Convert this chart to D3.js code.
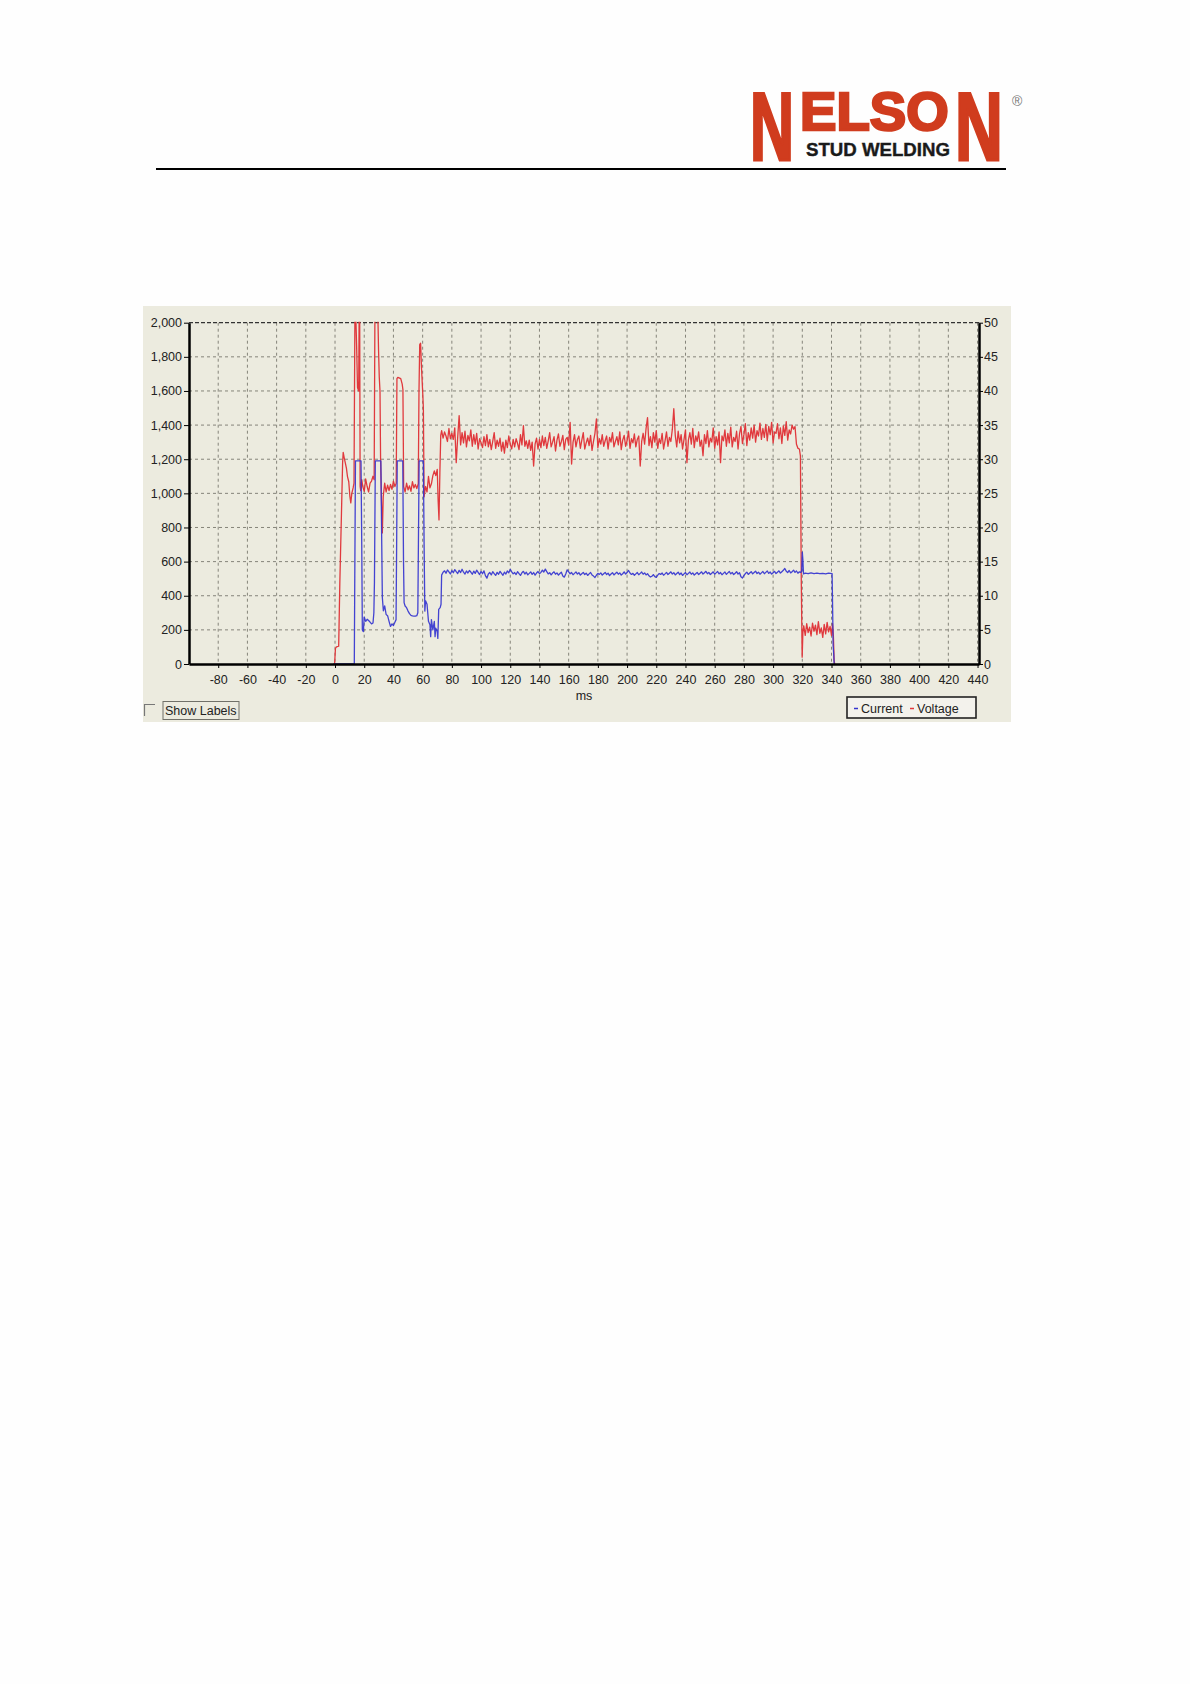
<!DOCTYPE html>
<html>
<head>
<meta charset="utf-8">
<script src="https://cdn.jsdelivr.net/npm/d3@7/dist/d3.min.js"></script>
<style>
  html, body { margin: 0; padding: 0; background: #fefefe; }
  svg { display: block; }
  text { font-family: "Liberation Sans", Arial, sans-serif; }
</style>
</head>
<body>
<div id="chart"></div>
<script>
// tick labels
const timeTicks = [-80, -60, -40, -20, 0, 20, 40, 60, 80, 100, 120, 140, 160, 180, 200, 220, 240, 260, 280, 300, 320, 340, 360, 380, 400, 420, 440];
const currentTicks = [0, 200, 400, 600, 800, 1000, 1200, 1400, 1600, 1800, 2000];
const voltageTicks = [0, 5, 10, 15, 20, 25, 30, 35, 40, 45, 50];
const legendItems = ['Current', 'Voltage'];

// voltage (V), ignition and pilot bursts: [ms, V]
const voltageIgnition = [
  [-1, 0], [-0.3, 0], [0.3, 2.3], [1, 2.5], [2.5, 2.6], [3.3, 12], [4.4, 22], [5.2, 29.5], [5.6, 31],
  [6.3, 30.2], [7, 29.5], [7.8, 28.7], [8.5, 27.5], [9.4, 26.7], [10.2, 24.5], [10.8, 23.6], [11.5, 25],
  [12.4, 25.8], [13, 26.5], [13.6, 50.5], [14.3, 50.5], [14.8, 46.5], [15.4, 40.5], [16.2, 40],
  [16.5, 50.5], [16.9, 50.5], [17.2, 26], [17.6, 25.4], [18.3, 27], [19, 26], [20, 25.3], [21, 27.1],
  [22, 26], [23, 25.2], [24, 26.5], [25, 26.8], [26, 27.5], [26.8, 27], [27.3, 50.5], [29.4, 50.5],
  [29.8, 46], [30.3, 42], [30.8, 40], [31.2, 30], [31.8, 24], [32.4, 19.2], [33, 24.5], [34, 26.5],
  [35, 25.2], [36, 26.2], [37, 25.4], [38, 26.3], [39, 25.6], [40, 26.8], [41, 26], [41.9, 26.5],
  [42.4, 41.8], [43, 42], [45, 41.8], [46, 41], [46.5, 40.2], [47, 26], [48, 25.2], [49, 26.5],
  [50, 25.5], [51, 26.1], [52, 25.3], [53, 26.7], [54, 25.8], [55, 26.3], [56, 25.7], [57, 26.4],
  [57.5, 40], [58, 46.8], [58.6, 47], [59.2, 43.5], [60, 40], [60.5, 37.5], [61, 24.5], [62, 26],
  [63, 25.2], [64, 27.5], [65, 25.8], [66, 26.4], [67, 27.6], [68, 28.3], [69, 27.6], [70, 28.5],
  [70.6, 24], [71.2, 21.1], [71.8, 28], [72.4, 33.5]
];

// voltage (V) during main arc, one reading per ms from 73 ms
const voltageArcStart = 73;
const voltageArc = [
  34.2, 33.1, 34.0, 33.4, 32.6, 34.5, 33.0, 33.8, 32.9, 34.6,
  29.5, 33.2, 36.4, 32.1, 33.9, 32.4, 34.1, 31.8, 33.5, 32.7,
  34.3, 31.9, 33.6, 32.2, 33.8, 31.5, 33.0, 32.4, 31.7, 33.3,
  32.0, 33.6, 31.8, 32.9, 31.4, 32.6, 33.9, 31.6, 32.8, 31.9,
  33.1, 31.2, 32.5, 30.9, 32.8, 31.7, 33.4, 32.2, 31.5, 32.9,
  31.8, 33.0, 32.3, 31.4, 33.6, 32.1, 34.9, 31.9, 32.7, 31.6,
  32.8, 31.3, 32.5, 29.0, 32.2, 33.1, 31.5, 32.9, 31.7, 33.4,
  32.0, 33.2, 31.6, 32.7, 33.9, 31.8, 32.5, 33.3, 31.2, 32.8,
  33.7, 31.9, 32.6, 33.5, 31.4, 32.9, 33.2, 32.1, 35.4, 29.3,
  32.5, 33.6, 31.8, 32.9, 33.4, 31.6, 32.8, 33.9, 31.5, 32.4,
  33.1, 32.0, 33.5, 31.3, 32.6, 33.8, 35.9, 31.7, 33.0, 32.2,
  33.6, 31.9, 32.7, 33.4, 31.5, 33.2, 32.5, 33.9, 31.8, 32.6,
  33.3, 32.1, 34.0, 31.4, 32.8, 33.5, 31.9, 32.7, 34.1, 31.6,
  33.0, 32.4, 33.7, 31.8, 32.9, 33.4, 29.0, 32.6, 33.8, 32.2,
  34.5, 36.1, 32.0, 33.3, 31.7, 33.9, 32.5, 34.2, 31.6, 33.0,
  32.3, 33.8, 31.5, 32.7, 34.0, 31.9, 33.2, 32.6, 34.4, 37.4,
  33.5, 31.8, 34.1, 32.4, 33.6, 31.5, 32.9, 34.3, 29.5, 32.8,
  33.9, 32.2, 34.5, 31.7, 33.4, 32.6, 34.0, 31.9, 32.8, 30.5,
  33.6, 32.3, 34.2, 31.8, 33.1, 32.5, 34.6, 31.6, 33.3, 32.1,
  34.0, 29.5, 33.4, 32.7, 34.3, 31.9, 33.8, 32.4, 34.7, 31.8,
  33.2, 32.6, 34.1, 31.5, 33.7, 34.8, 32.3, 33.6, 35.2, 32.0,
  33.9, 32.8, 34.6, 33.1, 35.0, 32.5, 34.2, 33.4, 35.3, 32.9,
  34.5, 33.2, 35.1, 32.7, 34.8, 33.6, 35.4, 32.4, 34.0, 33.8,
  35.2, 33.0, 34.6, 32.3, 34.9, 33.5, 35.5, 32.8, 34.3, 33.7,
  35.0, 34.4, 34.8, 32.2, 31.6
];

// voltage (V) at plunge: [ms, V]
const voltagePlunge = [
  [318, 31.5], [318.7, 30.5], [319.3, 12], [319.9, 1.0], [320.4, 4.6], [321, 5.6], [322, 4.2],
  [323, 5.9], [324, 4.6], [325, 5.4], [326, 4.1], [327, 6.0], [328, 4.8], [329, 5.7], [330, 4.3],
  [331, 6.2], [332, 4.5], [333, 5.3], [334, 3.9], [335, 5.8], [336, 4.4], [337, 6.1], [338, 4.7],
  [339, 5.5], [340, 4.2], [340.7, 5.9], [341.3, 4.0], [341.8, 0.5], [342.2, 0]
];

// current (A), pilot bursts: [ms, A]
const currentIgnition = [
  [-1, 0], [13.2, 0], [13.5, 470], [14.0, 1190], [17.8, 1190], [18.3, 700], [18.7, 200], [19.4, 190],
  [20, 275], [21, 250], [22, 262], [23, 255], [24, 245], [25, 235], [26, 240], [26.6, 300], [27, 480],
  [27.6, 1190], [31.4, 1190], [32, 700], [32.4, 390], [33.1, 312], [34, 340], [35, 290], [36, 283],
  [37, 250], [38, 220], [39, 235], [40, 225], [41, 245], [41.8, 260], [42.2, 700], [42.6, 1190],
  [46.4, 1190], [46.9, 600], [47.3, 360], [48, 340], [49, 330], [50, 310], [51, 295], [52, 285],
  [53, 282], [54, 280], [55, 280], [56, 283], [56.7, 300], [57.2, 800], [57.6, 1190], [60.5, 1190],
  [61.0, 700], [61.5, 310], [62, 370], [63, 350], [63.5, 300], [64, 250], [65, 230], [65.5, 160],
  [66, 260], [67, 200], [68, 250], [68.5, 160], [69, 210], [70, 190], [70.4, 150], [71, 320],
  [72, 330], [72.6, 350]
];

// current (A) during main arc, one reading per ms from 73 ms
const currentArcStart = 73;
const currentArc = [
  521, 538, 546, 532, 551, 540, 528, 547, 535, 553,
  541, 530, 549, 536, 555, 538, 527, 545, 533, 548,
  539, 526, 544, 531, 550, 537, 524, 542, 529, 546,
  518, 503, 527, 536, 522, 541, 530, 519, 537, 526,
  543, 531, 520, 538, 527, 545, 534, 555, 540, 528,
  536, 524, 541, 530, 519, 535, 543, 527, 538, 522,
  531, 540, 525, 536, 521, 533, 542, 529, 537, 550,
  539, 556, 541, 528, 535, 522, 533, 540, 526, 534,
  521, 530, 538, 516, 509, 527, 552, 540, 529, 536,
  523, 531, 540, 527, 535, 521, 529, 537, 524, 532,
  519, 528, 536, 522, 515, 507, 520, 531, 525, 534,
  521, 529, 537, 524, 532, 518, 527, 535, 522, 530,
  538, 526, 534, 521, 529, 540, 527, 536, 548, 533,
  525, 531, 520, 528, 536, 523, 531, 539, 526, 534,
  522, 529, 517, 510, 514, 524, 512, 508, 521, 530,
  525, 533, 520, 528, 537, 524, 532, 540, 527, 535,
  522, 530, 538, 524, 533, 519, 528, 536, 523, 531,
  539, 526, 534, 521, 529, 537, 524, 532, 540, 527,
  535, 543, 529, 537, 524, 532, 540, 526, 534, 542,
  528, 536, 523, 531, 539, 525, 534, 542, 528, 537,
  524, 532, 541, 527, 535, 511, 504, 518, 530, 538,
  525, 533, 541, 528, 536, 544, 530, 538, 526, 534,
  542, 529, 537, 545, 531, 539, 527, 535, 543, 530,
  538, 546, 533, 541, 549, 560, 544, 536, 548, 534,
  541, 550, 537, 545, 532, 540, 536
];

// current (A) at plunge: [ms, A]
const currentPlunge = [
  [319.6, 548], [320, 655], [320.4, 610], [320.8, 528], [322, 532], [324, 529], [326, 534],
  [328, 530], [330, 533], [332, 529], [334, 531], [336, 528], [338, 532], [340.4, 530],
  [340.8, 300], [341.1, 110], [341.5, 60], [341.8, 0]
];

const voltageSeries = voltageIgnition
  .concat(voltageArc.map((v, i) => [voltageArcStart + i, v]))
  .concat(voltagePlunge);
const currentSeries = currentIgnition
  .concat(currentArc.map((v, i) => [currentArcStart + i, v]))
  .concat(currentPlunge);

const width = 1190, height = 1684;
const svg = d3.select('#chart').append('svg')
  .attr('width', width)
  .attr('height', height);

// ---- logo header ----
// letters are squeezed with a transform so their boxes stay tight
const logoRed = '#d03c1e';
const logo = svg.append('g');
logo.append('text')
  .attr('transform', 'translate(750,160) scale(0.635,1)')
  .attr('font-size', 96).attr('font-weight', 'bold')
  .attr('fill', logoRed).attr('stroke', logoRed).attr('stroke-width', 3)
  .text('N');
logo.append('text')
  .attr('transform', 'translate(800,130) scale(1.03,1)')
  .attr('font-size', 53).attr('font-weight', 'bold')
  .attr('fill', logoRed).attr('stroke', logoRed).attr('stroke-width', 2.5)
  .text('ELSO');
logo.append('text')
  .attr('transform', 'translate(955,160) scale(0.69,1)')
  .attr('font-size', 96).attr('font-weight', 'bold')
  .attr('fill', logoRed).attr('stroke', logoRed).attr('stroke-width', 3)
  .text('N');
logo.append('text')
  .attr('x', 806).attr('y', 156)
  .attr('font-size', 19).attr('font-weight', 'bold')
  .attr('textLength', 144).attr('lengthAdjust', 'spacingAndGlyphs')
  .attr('fill', '#1a1a1a').attr('stroke', '#1a1a1a').attr('stroke-width', 0.4)
  .text('STUD WELDING');
logo.append('text')
  .attr('x', 1012).attr('y', 106)
  .attr('font-size', 14)
  .attr('fill', '#777')
  .text('®');

svg.append('line')
  .attr('x1', 156).attr('x2', 1006)
  .attr('y1', 169).attr('y2', 169)
  .attr('stroke', '#000').attr('stroke-width', 2);

// ---- chart panel ----
svg.append('rect')
  .attr('x', 143).attr('y', 306)
  .attr('width', 868).attr('height', 416)
  .attr('fill', '#ecebdf');

const xScale = d3.scaleLinear().domain([-100, 441]).range([189, 979]);
const yCurrent = d3.scaleLinear().domain([0, 2000]).range([664, 322.7]);
const yVoltage = d3.scaleLinear().domain([0, 50]).range([664, 322.7]);

const grid = svg.append('g');
grid.selectAll('line.v')
  .data(timeTicks)
  .enter().append('line')
  .attr('x1', d => xScale(d)).attr('x2', d => xScale(d))
  .attr('y1', yCurrent(2000)).attr('y2', yCurrent(0))
  .attr('stroke', '#85847a').attr('stroke-width', 1)
  .attr('stroke-dasharray', '3,3');
grid.selectAll('line.h')
  .data(currentTicks.filter(d => d > 0 && d < 2000))
  .enter().append('line')
  .attr('x1', xScale.range()[0]).attr('x2', xScale.range()[1])
  .attr('y1', d => yCurrent(d)).attr('y2', d => yCurrent(d))
  .attr('stroke', '#85847a').attr('stroke-width', 1)
  .attr('stroke-dasharray', '3,3');
// top border drawn as dark dashed line
grid.append('line')
  .attr('x1', xScale.range()[0]).attr('x2', xScale.range()[1])
  .attr('y1', yCurrent(2000)).attr('y2', yCurrent(2000))
  .attr('stroke', '#333').attr('stroke-width', 1.3)
  .attr('stroke-dasharray', '4,2');

// traces
svg.append('clipPath').attr('id', 'plot-clip')
  .append('rect')
  .attr('x', xScale.range()[0]).attr('y', yCurrent(2000) - 1)
  .attr('width', xScale.range()[1] - xScale.range()[0])
  .attr('height', yCurrent(0) - yCurrent(2000) + 1);

const traces = svg.append('g').attr('clip-path', 'url(#plot-clip)');

const voltageLine = d3.line()
  .x(d => xScale(d[0]))
  .y(d => yVoltage(d[1]));
const currentLine = d3.line()
  .x(d => xScale(d[0]))
  .y(d => yCurrent(d[1]));

traces.append('path')
  .datum(voltageSeries)
  .attr('d', voltageLine)
  .attr('fill', 'none')
  .attr('stroke', '#e0393d')
  .attr('stroke-width', 1.3)
  .attr('stroke-linejoin', 'round');
traces.append('path')
  .datum(currentSeries)
  .attr('d', currentLine)
  .attr('fill', 'none')
  .attr('stroke', '#3434cf')
  .attr('stroke-width', 1.3)
  .attr('stroke-opacity', 0.92)
  .attr('stroke-linejoin', 'round');

// axes
const axisFont = g => g.selectAll('text')
  .attr('font-size', 12.5)
  .attr('font-family', '"Liberation Sans", Arial, sans-serif')
  .attr('fill', '#222');

const xAxis = svg.append('g')
  .attr('transform', `translate(0,${yCurrent(0)})`)
  .call(d3.axisBottom(xScale).tickValues(timeTicks).tickFormat(d => String(d))
    .tickSize(4).tickSizeOuter(0).tickPadding(7))
  .call(axisFont);
xAxis.select('.domain').attr('stroke', '#000').attr('stroke-width', 2.5);
xAxis.selectAll('.tick line').attr('stroke', '#000');

const leftAxis = svg.append('g')
  .attr('transform', `translate(${xScale.range()[0]},0)`)
  .call(d3.axisLeft(yCurrent).tickValues(currentTicks).tickFormat(d3.format(','))
    .tickSize(5).tickSizeOuter(0).tickPadding(2))
  .call(axisFont);
leftAxis.select('.domain').attr('stroke', '#000').attr('stroke-width', 2.5);
leftAxis.selectAll('.tick line').attr('stroke', '#000');

const rightAxis = svg.append('g')
  .attr('transform', `translate(${xScale.range()[1]},0)`)
  .call(d3.axisRight(yVoltage).tickValues(voltageTicks).tickSize(4).tickSizeOuter(0).tickPadding(1))
  .call(axisFont);
rightAxis.select('.domain').attr('stroke', '#000').attr('stroke-width', 2.5);
rightAxis.selectAll('.tick line').attr('stroke', '#000');

svg.append('text')
  .attr('x', (xScale.range()[0] + xScale.range()[1]) / 2)
  .attr('y', 700)
  .attr('text-anchor', 'middle')
  .attr('font-size', 12.5)
  .attr('fill', '#222')
  .text('ms');

// "Show Labels" checkbox + button
svg.append('path')
  .attr('d', 'M144.5,716 V704.5 H155')
  .attr('fill', 'none').attr('stroke', '#777').attr('stroke-width', 1.2);
svg.append('rect')
  .attr('x', 163).attr('y', 701.5)
  .attr('width', 76).attr('height', 18)
  .attr('fill', 'none').attr('stroke', '#707068').attr('stroke-width', 1);
svg.append('text')
  .attr('x', 165).attr('y', 715)
  .attr('font-size', 12.5)
  .attr('fill', '#222')
  .text('Show Labels');

// legend
const legend = svg.append('g').attr('transform', 'translate(847,697)');
legend.append('rect')
  .attr('width', 129).attr('height', 21)
  .attr('fill', '#f3f2ec')
  .attr('stroke', '#222').attr('stroke-width', 1.6);
const legendColors = ['#3434cf', '#e0393d'];
const legendX = [7, 63];
legend.selectAll('line.key')
  .data(legendItems)
  .enter().append('line')
  .attr('x1', (d, i) => legendX[i]).attr('x2', (d, i) => legendX[i] + 4)
  .attr('y1', 11.5).attr('y2', 11.5)
  .attr('stroke', (d, i) => legendColors[i]).attr('stroke-width', 1.5);
legend.selectAll('text.key')
  .data(legendItems)
  .enter().append('text')
  .attr('x', (d, i) => legendX[i] + 7)
  .attr('y', 15.5)
  .attr('font-size', 12.5)
  .attr('fill', '#222')
  .text(d => d);
</script>
</body>
</html>
